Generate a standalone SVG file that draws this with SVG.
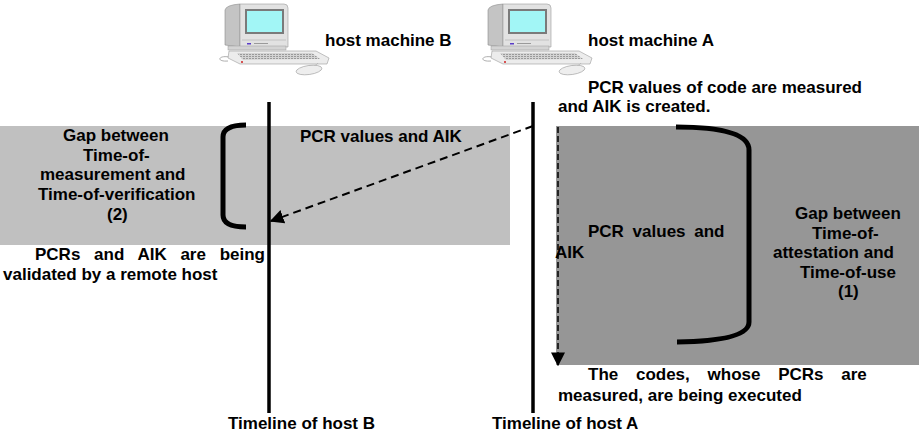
<svg xmlns="http://www.w3.org/2000/svg" width="919" height="436" viewBox="0 0 919 436">
  <style>
    text { font-family: "Liberation Sans", Arial, Helvetica, sans-serif; font-weight: bold; font-size: 17px; fill: #000; }
    .timeline { stroke: #000; stroke-width: 3.5; fill: none; }
    .bracket { stroke: #000; stroke-width: 5; fill: none; stroke-linecap: butt; }
    .msg { stroke: #000; stroke-width: 2; fill: none; stroke-dasharray: 8 5; }
    .exec { stroke: #000; stroke-width: 1.5; fill: none; stroke-dasharray: 6 3; }
  </style>
  <defs>
    <marker id="head" viewBox="0 0 10 10" refX="9" refY="5" markerWidth="14" markerHeight="14" markerUnits="userSpaceOnUse" orient="auto">
      <path d="M0,0 L10,5 L0,10 Z" fill="#000"/>
    </marker>
    <pattern id="keys" width="3" height="2" patternUnits="userSpaceOnUse">
      <rect width="3" height="2" fill="#d4d4d4"/>
      <rect width="2" height="1" fill="#9a9a9a"/>
    </pattern>
    <!-- desktop computer icon: monitor, keyboard and mouse -->
    <g id="computer">
      <path d="M225,10 Q226,5 240,4 L240,47 L225,45 Z" fill="#c4c4c4" stroke="#8c8c8c" stroke-width="0.6"/>
      <path d="M240,4 L284,4 Q288,4 288,8 L288,47 L240,47 Z" fill="#e2e2e2" stroke="#9a9a9a" stroke-width="0.6"/>
      <rect x="245" y="9" width="39" height="25" fill="#7a7a7a"/>
      <rect x="247" y="11" width="35" height="21" fill="#a2f6f6"/>
      <line x1="242" y1="40" x2="286" y2="40" stroke="#b0b0b0" stroke-width="0.6"/>
      <rect x="247" y="43" width="4" height="1.5" fill="#5a3cc8"/>
      <rect x="254" y="43" width="14" height="1" fill="#9a9a9a"/>
      <rect x="228" y="46" width="58" height="4" fill="#d4d4d4" stroke="#9a9a9a" stroke-width="0.5"/>
      <path d="M229,57 C218,55 216,62 228,61" fill="none" stroke="#999" stroke-width="0.8"/>
      <polygon points="229,51 316,51 329,58 327,64 240,64 228,58" fill="#ececec" stroke="#9a9a9a" stroke-width="0.6"/>
      <polygon points="237,53 312,53 320,59 243,60" fill="url(#keys)"/>
      <circle cx="242" cy="62" r="1" fill="#d02020"/>
      <path d="M318,63 C316,66 312,66 308,66" fill="none" stroke="#aaa" stroke-width="0.6"/>
      <ellipse cx="309" cy="70" rx="13" ry="4.5" fill="#eeeeee" stroke="#9a9a9a" stroke-width="0.6" transform="rotate(-8 309 70)"/>
    </g>
  </defs>

  <!-- shaded time gaps -->
  <rect id="gap-verification" x="0" y="126" width="510" height="119" fill="#c0c0c0"/>
  <rect id="gap-use" x="556" y="126" width="363" height="239" fill="#969696"/>

  <!-- host B -->
  <g id="host-b">
    <use href="#computer"/>
    <text x="325" y="46">host machine B</text>
  </g>

  <!-- host A -->
  <g id="host-a">
    <use href="#computer" transform="translate(263,0)"/>
    <text x="588" y="46">host machine A</text>
  </g>

  <!-- timelines -->
  <g id="timeline-b">
    <line class="timeline" x1="269" y1="102" x2="269" y2="413"/>
    <text x="228" y="429">Timeline of host B</text>
  </g>
  <g id="timeline-a">
    <line class="timeline" x1="533" y1="102" x2="533" y2="413"/>
    <text x="492" y="429">Timeline of host A</text>
  </g>

  <!-- events on host A -->
  <g id="measure-event">
    <text x="588" y="93">PCR values of code are measured</text>
    <text x="558" y="112">and AIK is created.</text>
  </g>
  <g id="execute-event">
    <text x="588" y="380" word-spacing="13">The codes, whose PCRs are</text>
    <text x="558" y="401">measured, are being executed</text>
  </g>

  <!-- event on host B -->
  <g id="validate-event">
    <text x="35" y="260" word-spacing="9">PCRs and AIK are being</text>
    <text x="3" y="280">validated by a remote host</text>
  </g>

  <!-- gap (2) -->
  <g id="gap-2">
    <path class="bracket" d="M246,125 Q223,125 223,137 L223,215 Q223,227 246,227"/>
    <text x="63" y="141">Gap between</text>
    <text x="83" y="161">Time-of-</text>
    <text x="40" y="180">measurement and</text>
    <text x="38" y="200">Time-of-verification</text>
    <text x="107" y="220">(2)</text>
  </g>

  <!-- gap (1) -->
  <g id="gap-1">
    <path class="bracket" d="M676,127 Q749,127 749,150 L749,322 Q749,341 677,342"/>
    <text x="795" y="219">Gap between</text>
    <text x="812" y="238.5">Time-of-</text>
    <text x="773" y="258">attestation and</text>
    <text x="800" y="277.5">Time-of-use</text>
    <text x="838" y="297">(1)</text>
  </g>

  <!-- connectors -->
  <g id="connectors">
    <line class="msg" x1="533" y1="126" x2="271" y2="221" marker-end="url(#head)"/>
    <text x="300" y="142">PCR values and AIK</text>
    <line class="exec" x1="558" y1="127" x2="558" y2="365" marker-end="url(#head)"/>
    <text x="588" y="237" word-spacing="4">PCR values and</text>
    <text x="555" y="258">AIK</text>
  </g>
</svg>
